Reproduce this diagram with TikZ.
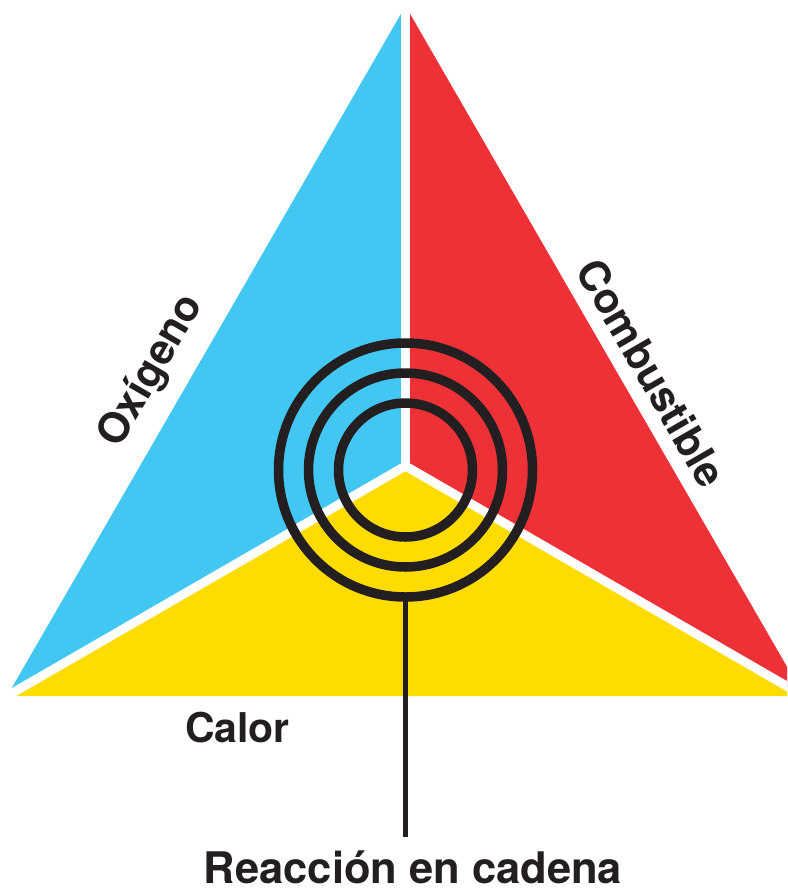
\documentclass[tikz,border=0pt]{standalone}
\usepackage{fontspec}
\setmainfont{TeX Gyre Heros}
\definecolor{oxblue}{HTML}{42C7F3}
\definecolor{fuelred}{HTML}{EE3037}
\definecolor{heatyellow}{HTML}{FFDC00}
\definecolor{inkdark}{HTML}{231F20}
\tikzset{
  label text/.style={font=\fontsize{41}{49}\selectfont\bfseries, text=inkdark, inner sep=0pt},
  side text/.style={font=\fontsize{42}{50}\selectfont\bfseries, text=inkdark, inner sep=0pt},
  big text/.style={font=\fontsize{43.5}{52}\selectfont\bfseries, text=inkdark, inner sep=0pt},
  gapline/.style={draw=white, line width=9pt, line cap=butt},
  ring/.style={draw=inkdark, line width=9.5pt},
}
\begin{document}
\begin{tikzpicture}[x=1pt,y=-1pt]
\useasboundingbox (0,0) rectangle (787,891);
\clip (0,0) rectangle (787,891);
\coordinate (A) at (405.5,6);
\coordinate (L) at (7.1,696);
\coordinate (R) at (803.9,696);
\coordinate (O) at (405.5,466);
\coordinate (C) at (405.5,470);
\coordinate (S) at (405.5,837);
% sectors
\fill[oxblue] (A) -- (O) -- (L) -- cycle;
\fill[fuelred] (A) -- (O) -- (R) -- cycle;
\fill[heatyellow] (L) -- (O) -- (R) -- cycle;
% white gaps
\draw[gapline] (O) -- (A);
\draw[gapline] (O) -- (L);
\draw[gapline] (O) -- (R);
% rings
\draw[ring] (C) circle[radius=67];
\draw[ring] (C) circle[radius=97];
\draw[ring] (C) circle[radius=127];
\coordinate (Cb) at (405.5,597);
\draw[draw=inkdark, line width=5pt] (Cb) -- (S);
% labels
\node[side text, anchor=base, rotate=60] (oxi) at (161.5,377) {Oxígeno};
\node[side text, anchor=base, rotate=-60] (comb) at (638.5,380.5) {Combustible};
\node[label text, anchor=base] (calor) at (237.5,742) {Calor};
\node[big text, anchor=base] (reac) at (413,883) {Reacción en cadena};
\end{tikzpicture}
\end{document}
